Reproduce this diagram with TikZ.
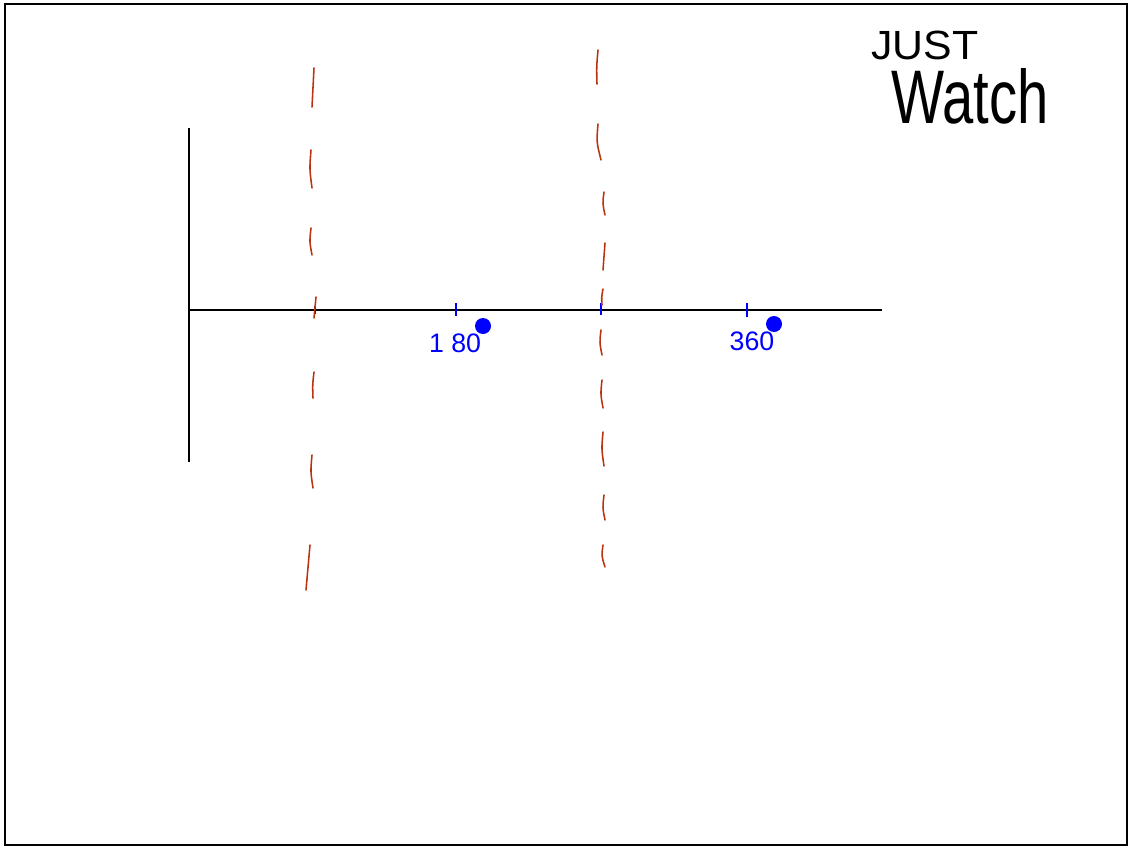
\documentclass[tikz,border=0pt]{standalone}
\usepackage{fontspec}
\setmainfont{Liberation Sans}
\definecolor{rust}{RGB}{184,52,14}
\tikzset{
  asym/.style={rust, line width=1.1pt, line cap=round},
  tickmark/.style={blue, line width=0.8pt},
}
\begin{document}
\begin{tikzpicture}[x=0.025cm,y=-0.025cm]
\useasboundingbox (0,0) rectangle (1128,847);
\draw[line width=1.4pt] (5,4) rectangle (1127,845);
% axes
\draw[line width=0.9pt] (189,128) -- (189,462);
\draw[line width=0.9pt] (189,310) -- (882,310);
% ticks
\foreach \tx/\lo/\hi in {315/306/314, 456/303/316, 601/303/315, 747/303/317}
  \draw[tickmark] (\tx,\lo) -- (\tx,\hi);
\node[blue, font=\fontsize{19}{19}\selectfont] at (455,343) {1 80};
\node[blue, font=\fontsize{19}{19}\selectfont] at (752,341) {360};
\fill[blue] (483,326) circle (8);
\fill[blue] (774,324) circle (8);
% first asymptote
\foreach \xa/\ya/\xb/\yb in {314/68/312/107, 311/150/312/188, 311/228/312/255,
    316/297/314/318, 314/372/313/398, 312/455/313/488, 310/545/306/590}
  \draw[asym] (\xa,\ya) .. controls (\xa-1.5,{(\ya+\yb)/2}) .. (\xb,\yb);
% second asymptote
\foreach \xa/\ya/\xb/\yb in {598/50/597/84, 598/124/601/160, 604/192/605/215,
    605/243/603/270, 603/289/602/305, 601/330/602/355, 602/380/603/408,
    603/432/604/466, 604/495/605/520, 603/545/605/567}
  \draw[asym] (\xa,\ya) .. controls (\xa-1.5,{(\ya+\yb)/2}) .. (\xb,\yb);
% note
\node[font=\fontsize{29}{29}\selectfont, xscale=1.05, transform shape] at (925,45) {JUST};
\node[font=\fontsize{54}{54}\selectfont, xscale=0.74, transform shape] at (970,96) {Watch};
\end{tikzpicture}
\end{document}
